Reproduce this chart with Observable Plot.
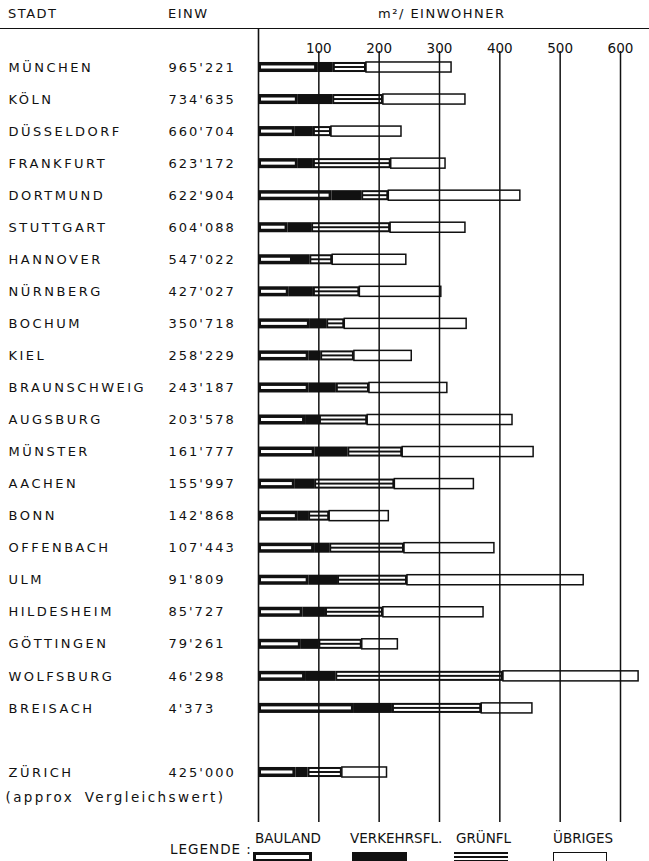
<!DOCTYPE html>
<html><head><meta charset="utf-8">
<script src="https://cdn.jsdelivr.net/npm/d3@7"></script>
<script src="https://cdn.jsdelivr.net/npm/@observablehq/plot@0.6"></script>
<style>
html,body{margin:0;padding:0;background:#fff;}
body{width:649px;height:861px;overflow:hidden;font-family:"DejaVu Sans",sans-serif;color:#111;}
#header{position:relative;height:28px;border-bottom:1.5px solid #111;}
#header span{position:absolute;top:6px;font-size:13px;letter-spacing:1.5px;white-space:nowrap;}
#chart svg{display:block;}
#legend{position:relative;height:32px;}
#legend .lab{position:absolute;font-size:13.5px;white-space:nowrap;}
#legend .sw{position:absolute;top:22.5px;height:10px;box-sizing:border-box;}
</style></head>
<body>
<div id="header">
  <span style="left:8px">STADT</span>
  <span style="left:168px">EINW</span>
  <span style="left:378px">m²/ EINWOHNER</span>
</div>
<div id="chart"></div>
<div id="legend"></div>
<script>
// ---- data (m² per inhabitant) ----
const cities = ["MÜNCHEN","KÖLN","DÜSSELDORF","FRANKFURT","DORTMUND","STUTTGART","HANNOVER","NÜRNBERG","BOCHUM","KIEL","BRAUNSCHWEIG","AUGSBURG","MÜNSTER","AACHEN","BONN","OFFENBACH","ULM","HILDESHEIM","GÖTTINGEN","WOLFSBURG","BREISACH","ZÜRICH"];
const population = [965221,734635,660704,623172,622904,604088,547022,427027,350718,258229,243187,203578,161777,155997,142868,107443,91809,85727,79261,46298,4373,425000];
const bauland  = [98,66,61,66,122,49,58,51,86,84,84,78,94,61,66,93,84,74,71,78,159,62];
const verkehr  = [26,57,30,25,49,39,27,40,27,19,45,23,54,32,17,25,47,37,29,50,63,20];
const gruen    = [55,84,30,129,45,131,38,77,30,56,55,80,91,133,35,124,116,96,72,278,148,57];
const uebrige  = [141,136,116,90,218,124,122,135,202,95,129,240,217,131,98,149,292,166,59,224,84,74];
const ticks = [100,200,300,400,500,600];
const categories = ["BAULAND","VERKEHRSFL.","GRÜNFL","ÜBRIGES"];
const zurichNote = "(approx Vergleichswert)";

const fmt = d3.formatLocale({thousands:"'", grouping:[3], decimal:"."}).format(",d");
const rows = cities.map((name,i)=>{
  const row = i < cities.length-1 ? i : i+1; // blank row before Zürich
  const c = d3.cumsum([bauland[i],verkehr[i],gruen[i],uebrige[i]]);
  return {name, pop:population[i], row, b1:c[0], v1:c[1], g1:c[2], u1:c[3], last: i===cities.length-1};
});

const ink = "#111";
const band = {y1:d=>d.row-0.5, y2:d=>d.row+0.5, insetTop:11, insetBottom:11};

const chart = Plot.plot({
  width:649, height:800,
  marginLeft:258, marginRight:29, marginTop:22, marginBottom:7,
  x:{domain:[0,600], axis:null},
  y:{domain:[0,22], range:[38,743], axis:null},
  style:{fontFamily:'"DejaVu Sans",sans-serif', color:ink, background:"#fff"},
  marks:[
    // Bauland: black box with white inner stripe
    Plot.rect(rows,{x1:0, x2:"b1", ...band, fill:ink}),
    Plot.rect(rows,{x1:0, x2:"b1", y1:d=>d.row-0.5, y2:d=>d.row+0.5, insetTop:14.5, insetBottom:14.5, insetLeft:3, insetRight:3, fill:"#fff"}),
    // Verkehrsfläche: solid black
    Plot.rect(rows,{x1:"b1", x2:"v1", ...band, fill:ink}),
    // Grünfläche: black with two white stripes
    Plot.rect(rows,{x1:"v1", x2:"g1", ...band, fill:ink}),
    Plot.rect(rows,{x1:"v1", x2:"g1", y1:d=>d.row-0.5, y2:d=>d.row+0.5, insetTop:13, insetBottom:17, insetLeft:2, insetRight:2, fill:"#fff"}),
    Plot.rect(rows,{x1:"v1", x2:"g1", y1:d=>d.row-0.5, y2:d=>d.row+0.5, insetTop:17, insetBottom:13, insetLeft:2, insetRight:2, fill:"#fff"}),
    // Übriges: white outlined
    Plot.rect(rows,{x1:"g1", x2:"u1", ...band, fill:"#fff", stroke:ink, strokeWidth:1.5}),
    // grid
    Plot.ruleX(ticks,{stroke:ink, strokeWidth:1.5}),
    Plot.ruleX([0],{stroke:ink, strokeWidth:1.6, insetTop:-22}),
    Plot.text(ticks,{x:d=>d, text:d=>String(d), frameAnchor:"top", dy:-8, fontSize:13.5, fill:ink}),
    // labels
    Plot.text(rows,{y:"row", text:"name", frameAnchor:"left", dx:-250, textAnchor:"start", fontSize:13, fill:ink, ariaDescription:"city"}),
    Plot.text(rows,{y:"row", text:d=>fmt(d.pop), frameAnchor:"left", dx:-90, textAnchor:"start", fontSize:13, fill:ink, ariaDescription:"pop"}),
    Plot.text(rows.filter(d=>d.last),{y:"row", text:()=>zurichNote, frameAnchor:"left", dx:-253, dy:25, textAnchor:"start", fontSize:13.5, fill:ink, ariaDescription:"note"})
  ]
});
document.getElementById("chart").appendChild(chart);
d3.select(chart).selectAll('g[aria-description="city"] text').style("letter-spacing","2.5px");
d3.select(chart).selectAll('g[aria-description="pop"] text').style("letter-spacing","2px");
d3.select(chart).selectAll('g[aria-description="note"] text').style("letter-spacing","2.4px").style("word-spacing","4px");

// legend
const legend = d3.select("#legend");
legend.append("span").attr("class","lab").style("left","170px").style("top","12px").style("letter-spacing","1px").text("LEGENDE :");
const labLeft = [255,350,456,553];
const swLeft = [253,352,454,553];
const swW = [59,55,54,54];
const swStyle = [
  "background:#fff;border:3px solid #111;",
  "background:#111;",
  "background:linear-gradient(#111 0 2px,#fff 2px 4px,#111 4px 6px,#fff 6px 8px,#111 8px 10px);",
  "background:#fff;border:1.5px solid #111;"
];
categories.forEach((c,i)=>{
  legend.append("span").attr("class","lab").style("left",labLeft[i]+"px").style("top","1px").text(c);
  legend.append("div").attr("class","sw").attr("style",`left:${swLeft[i]}px;width:${swW[i]}px;`+swStyle[i]);
});
</script>
</body></html>
